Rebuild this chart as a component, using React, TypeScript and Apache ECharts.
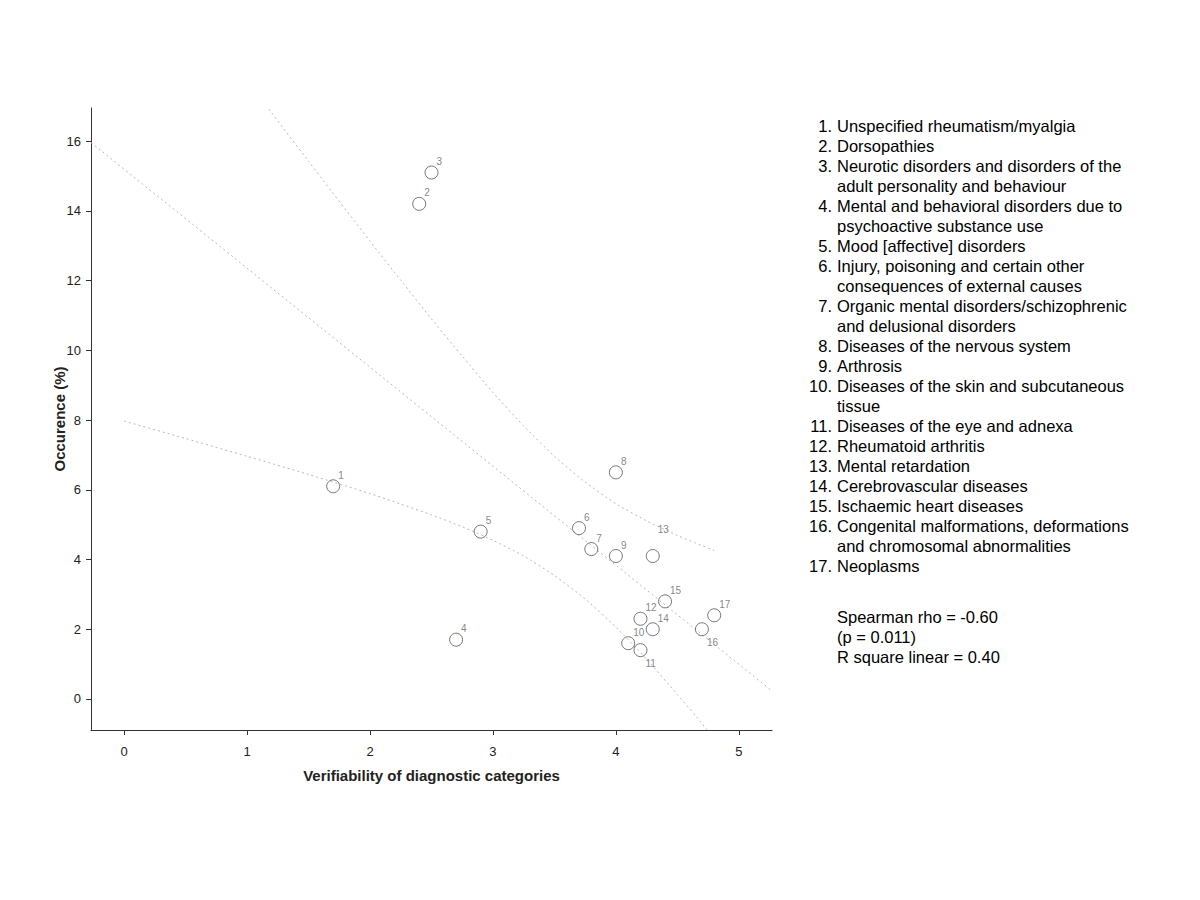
import React, { useEffect, useRef } from 'react';
import * as echarts from 'echarts';

// ---- data ----
const pointIds = ['1', '2', '3', '4', '5', '6', '7', '8', '9', '10', '11', '12', '13', '14', '15', '16', '17'];
const verifiability = [1.7, 2.4, 2.5, 2.7, 2.9, 3.7, 3.8, 4.0, 4.0, 4.1, 4.2, 4.2, 4.3, 4.3, 4.4, 4.7, 4.8];
const occurrence = [6.1, 14.2, 15.1, 1.7, 4.8, 4.9, 4.3, 6.5, 4.1, 1.6, 1.4, 2.3, 4.1, 2.0, 2.8, 2.0, 2.4];

const fitX = [-0.27, 5.27];
const fitY = [15.96, 0.23];

const ciX = [0, 0.5, 1, 1.5, 2, 2.25, 2.5, 2.75, 3, 3.25, 3.5, 3.75, 4, 4.25, 4.5, 4.65, 4.8];
const ciUpper = [22.41, 20.07, 17.74, 15.42, 13.13, 12.01, 10.9, 9.83, 8.79, 7.83, 6.96, 6.22, 5.6, 5.11, 4.69, 4.47, 4.26];
const ciLower = [7.97, 7.47, 6.96, 6.44, 5.89, 5.59, 5.28, 4.94, 4.55, 4.1, 3.54, 2.87, 2.06, 1.14, 0.13, -0.49, -1.14];

const xTicks = [0, 1, 2, 3, 4, 5];
const yTicks = [0, 2, 4, 6, 8, 10, 12, 14, 16];

const categoryNames = [
  'Unspecified rheumatism/myalgia',
  'Dorsopathies',
  'Neurotic disorders and disorders of the\nadult personality and behaviour',
  'Mental and behavioral disorders due to\npsychoactive substance use',
  'Mood [affective] disorders',
  'Injury, poisoning and certain other\nconsequences of external causes',
  'Organic mental disorders/schizophrenic\nand delusional disorders',
  'Diseases of the nervous system',
  'Arthrosis',
  'Diseases of the skin and subcutaneous\ntissue',
  'Diseases of the eye and adnexa',
  'Rheumatoid arthritis',
  'Mental retardation',
  'Cerebrovascular diseases',
  'Ischaemic heart diseases',
  'Congenital malformations, deformations\nand chromosomal abnormalities',
  'Neoplasms',
];
const statsLines = ['Spearman rho = -0.60', '(p = 0.011)', 'R square linear = 0.40'];

const labelsBelow = ['11', '16'];
const labelsHigh = ['13'];

const FONT = 'Arial, "Liberation Sans", sans-serif';

function buildOption() {
  const scatterData = verifiability.map((x, i) => {
    const id = pointIds[i];
    let offset = [5, -11];
    if (labelsBelow.includes(id)) offset = [5, 13];
    if (labelsHigh.includes(id)) offset = [5, -27];
    return {
      value: [x, occurrence[i]],
      name: id,
      label: { offset },
    };
  });

  const graphics: any[] = [];
  let row = 0;
  const legendTop = 116;
  const fs = 16.5;
  categoryNames.forEach((name, i) => {
    const y = legendTop + row * 20;
    graphics.push({
      type: 'text',
      x: 832,
      y,
      style: { text: `${i + 1}.`, align: 'right', verticalAlign: 'top', fontSize: fs, lineHeight: 20, fontFamily: FONT, fill: '#000' },
    });
    graphics.push({
      type: 'text',
      x: 837,
      y,
      style: { text: name, align: 'left', verticalAlign: 'top', fontSize: fs, lineHeight: 20, fontFamily: FONT, fill: '#000' },
    });
    row += name.split('\n').length;
  });
  graphics.push({
    type: 'text',
    x: 837,
    y: 607,
    style: { text: statsLines.join('\n'), align: 'left', verticalAlign: 'top', fontSize: fs, lineHeight: 20, fontFamily: FONT, fill: '#000' },
  });

  const dotted = { type: [2, 3] as any, color: '#b8b8b8', width: 1 };

  return {
    animation: false,
    backgroundColor: '#fff',
    grid: { left: 91, top: 108, right: 428, bottom: 170, containLabel: false },
    xAxis: {
      type: 'value',
      min: -0.27,
      max: 5.27,
      name: 'Verifiability of diagnostic categories',
      nameLocation: 'middle',
      nameGap: 38,
      nameMoveOverlap: false,
      nameTextStyle: { fontSize: 15, fontWeight: 'bold', fontFamily: FONT, color: '#222' },
      axisLine: { show: true, onZero: false, lineStyle: { color: '#333', width: 1 } },
      axisTick: { show: true, length: 5, customValues: xTicks, lineStyle: { color: '#333' } },
      axisLabel: { customValues: xTicks, fontSize: 13, fontFamily: FONT, color: '#222', margin: 15 },
      splitLine: { show: false },
    },
    yAxis: {
      type: 'value',
      min: -0.89,
      max: 16.95,
      name: 'Occurence (%)',
      nameLocation: 'middle',
      nameGap: 24,
      nameMoveOverlap: false,
      nameRotate: 90,
      nameTextStyle: { fontSize: 15, fontWeight: 'bold', fontFamily: FONT, color: '#222' },
      axisLine: { show: true, onZero: false, lineStyle: { color: '#333', width: 1 } },
      axisTick: { show: true, length: 5, customValues: yTicks, lineStyle: { color: '#333' } },
      axisLabel: { customValues: yTicks, fontSize: 13, fontFamily: FONT, color: '#222', margin: 10 },
      splitLine: { show: false },
    },
    series: [
      {
        type: 'line',
        data: fitX.map((x, i) => [x, fitY[i]]),
        showSymbol: false,
        lineStyle: dotted,
        clip: true,
        silent: true,
      },
      {
        type: 'line',
        data: ciX.map((x, i) => [x, ciUpper[i]]),
        showSymbol: false,
        smooth: 0.2,
        lineStyle: dotted,
        clip: true,
        silent: true,
      },
      {
        type: 'line',
        data: ciX.map((x, i) => [x, ciLower[i]]),
        showSymbol: false,
        smooth: 0.2,
        lineStyle: dotted,
        clip: true,
        silent: true,
      },
      {
        type: 'scatter',
        data: scatterData,
        symbol: 'circle',
        symbolSize: 13,
        itemStyle: { color: 'rgba(255,255,255,0)', borderColor: '#555', borderWidth: 1 },
        label: {
          show: true,
          position: 'inside',
          align: 'left',
          verticalAlign: 'middle',
          formatter: '{b}',
          fontSize: 10,
          fontFamily: FONT,
          color: '#666',
        },
        z: 5,
      },
    ],
    graphic: graphics,
  };
}

export default function App() {
  const ref = useRef<HTMLDivElement>(null);
  useEffect(() => {
    if (!ref.current) return;
    const chart = echarts.init(ref.current, undefined, { renderer: 'svg' });
    chart.setOption(buildOption() as any);
    return () => chart.dispose();
  }, []);
  return (
    <div
      ref={ref}
      style={{ position: 'fixed', left: 0, top: 0, width: 1200, height: 900, background: '#fff' }}
    />
  );
}
